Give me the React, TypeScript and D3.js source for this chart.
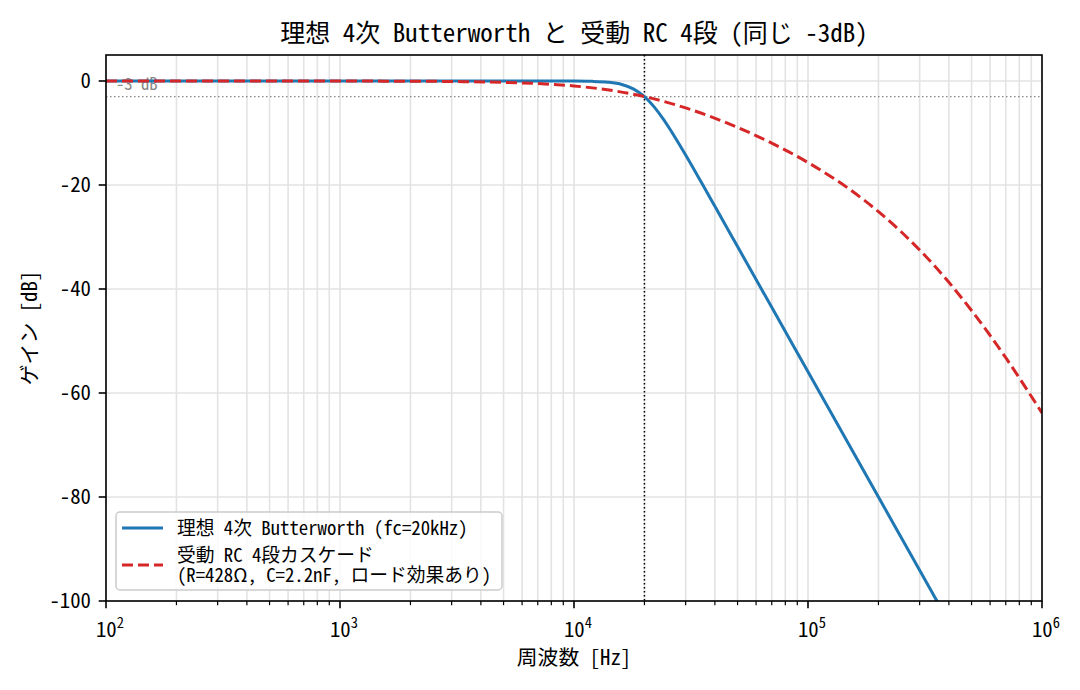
import React from "react";
import * as d3 from "d3";

const title = "理想 4次 Butterworth と 受動 RC 4段 (同じ -3dB)";
const xLabel = "周波数 [Hz]";
const yLabel = "ゲイン [dB]";
const legendButter = "理想 4次 Butterworth (fc=20kHz)";
const legendRC1 = "受動 RC 4段カスケード";
const legendRC2 = "(R=428Ω, C=2.2nF, ロード効果あり)";

const xMajorTicks = [1e2, 1e3, 1e4, 1e5, 1e6];
const xTickExps = ["2", "3", "4", "5", "6"];
const yTicks = [0, -20, -40, -60, -80, -100];
const cutoffHz = 20000;
const minus3 = -3;

const butterFreq = [100, 1000, 5000, 8000, 10000, 12000, 14000, 16000, 18000, 20000, 22000, 24000, 26000, 28000, 30000, 35000, 40000, 50000, 70000, 100000, 200000, 300000, 400000];
const butterGain = [0, 0, 0, -0.003, -0.017, -0.072, -0.243, -0.674, -1.555, -3.01, -4.97, -7.24, -9.62, -11.98, -14.25, -19.49, -24.1, -31.84, -43.53, -55.92, -80.0, -94.09, -104.08];

const rcFreq = [100, 200, 500, 1000, 2000, 3000, 5000, 7000, 10000, 15000, 20000, 30000, 50000, 70000, 100000, 150000, 200000, 250000, 300000, 400000, 500000, 700000, 1000000];
const rcGain = [0, -0.001, -0.003, -0.011, -0.042, -0.095, -0.258, -0.494, -0.956, -1.92, -3.0, -5.18, -8.92, -11.95, -15.68, -20.78, -25.13, -28.99, -32.5, -38.72, -44.13, -53.21, -63.85];

const FONT = "'Noto Sans Mono CJK JP', 'Noto Sans CJK JP', 'DejaVu Sans Mono', monospace";

export default function App() {
  const W = 1080, H = 690;
  const L = 106, R = 1042, T = 55, B = 601;
  const x = d3.scaleLog().domain([1e2, 1e6]).range([L, R]);
  const y = d3.scaleLinear().domain([-100, 5]).range([B, T]);

  const minor: number[] = [];
  for (let e = 2; e < 6; e++) for (let k = 2; k <= 9; k++) minor.push(k * Math.pow(10, e));

  const line = d3.line<[number, number]>().x(d => x(d[0])).y(d => y(d[1])).curve(d3.curveMonotoneX);
  const butterPath = line(butterFreq.map((f, i) => [f, butterGain[i]] as [number, number])) || "";
  const rcPath = line(rcFreq.map((f, i) => [f, rcGain[i]] as [number, number])) || "";

  const gridColor = "#e3e3e3";
  return (
    <svg width={W} height={H} style={{ position: "absolute", left: 0, top: 0, background: "#fff" }} fontFamily={FONT}>
      <rect x={0} y={0} width={W} height={H} fill="#fff" />
      <defs>
        <clipPath id="plotclip"><rect x={L} y={T} width={R - L} height={B - T} /></clipPath>
      </defs>
      {/* grid */}
      {minor.map((v, i) => (
        <line key={"gm" + i} x1={x(v)} x2={x(v)} y1={T} y2={B} stroke={gridColor} strokeWidth={1.6} />
      ))}
      {xMajorTicks.map((v, i) => (
        <line key={"gx" + i} x1={x(v)} x2={x(v)} y1={T} y2={B} stroke={gridColor} strokeWidth={1.6} />
      ))}
      {yTicks.map((v, i) => (
        <line key={"gy" + i} x1={L} x2={R} y1={y(v)} y2={y(v)} stroke={gridColor} strokeWidth={1.6} />
      ))}
      {/* reference lines */}
      <line x1={L} x2={R} y1={y(minus3)} y2={y(minus3)} stroke="#888" strokeWidth={1.2} strokeDasharray="1.5,2.5" />
      <line x1={x(cutoffHz)} x2={x(cutoffHz)} y1={T} y2={B} stroke="#000" strokeWidth={1.5} strokeDasharray="1.5,2.5" />
      <text x={116} y={90} fontSize={16.7} fill="#888">-3 dB</text>
      {/* curves */}
      <g clipPath="url(#plotclip)">
        <path d={butterPath} fill="none" stroke="#1f77b4" strokeWidth={3} strokeLinejoin="round" />
        <path d={rcPath} fill="none" stroke="#d62728" strokeWidth={3} strokeDasharray="11,5" />
      </g>
      {/* spines */}
      <rect x={L} y={T} width={R - L} height={B - T} fill="none" stroke="#000" strokeWidth={1.6} />
      {/* x ticks */}
      {xMajorTicks.map((v, i) => (
        <g key={"xt" + i}>
          <line x1={x(v)} x2={x(v)} y1={B} y2={B + 7.3} stroke="#000" strokeWidth={1.6} />
          <text x={x(v) + 4} y={637} fontSize={20.8} textAnchor="middle" fill="#000">
            10<tspan dy={-9} fontSize={14.5}>{xTickExps[i]}</tspan>
          </text>
        </g>
      ))}
      {minor.map((v, i) => (
        <line key={"xm" + i} x1={x(v)} x2={x(v)} y1={B} y2={B + 4.2} stroke="#000" strokeWidth={1.2} />
      ))}
      {/* y ticks */}
      {yTicks.map((v, i) => (
        <g key={"yt" + i}>
          <line x1={L - 7.3} x2={L} y1={y(v)} y2={y(v)} stroke="#000" strokeWidth={1.6} />
          <text x={91} y={y(v)} dy="0.36em" fontSize={20.8} textAnchor="end" fill="#000">{String(v)}</text>
        </g>
      ))}
      {/* labels */}
      <text x={(L + R) / 2} y={42} fontSize={25} textAnchor="middle" fill="#000">{title}</text>
      <text x={(L + R) / 2} y={665} fontSize={20.8} textAnchor="middle" fill="#000">{xLabel}</text>
      <text transform={`translate(37,${(T + B) / 2}) rotate(-90)`} fontSize={20.8} textAnchor="middle" fill="#000">{yLabel}</text>
      {/* legend */}
      <rect x={116} y={512} width={386} height={78} rx={4} fill="#fff" fillOpacity={0.8} stroke="#ccc" strokeWidth={1.5} />
      <line x1={122} x2={163} y1={528} y2={528} stroke="#1f77b4" strokeWidth={3} />
      <text x={177} y={528} dy="0.35em" fontSize={18.75} fill="#000">{legendButter}</text>
      <line x1={122} x2={163} y1={565} y2={565} stroke="#d62728" strokeWidth={3} strokeDasharray="11,5" />
      <text x={177} y={555} dy="0.35em" fontSize={18.75} fill="#000">
        <tspan x={177}>{legendRC1}</tspan>
        <tspan x={177} dy={20}>{legendRC2}</tspan>
      </text>
    </svg>
  );
}
